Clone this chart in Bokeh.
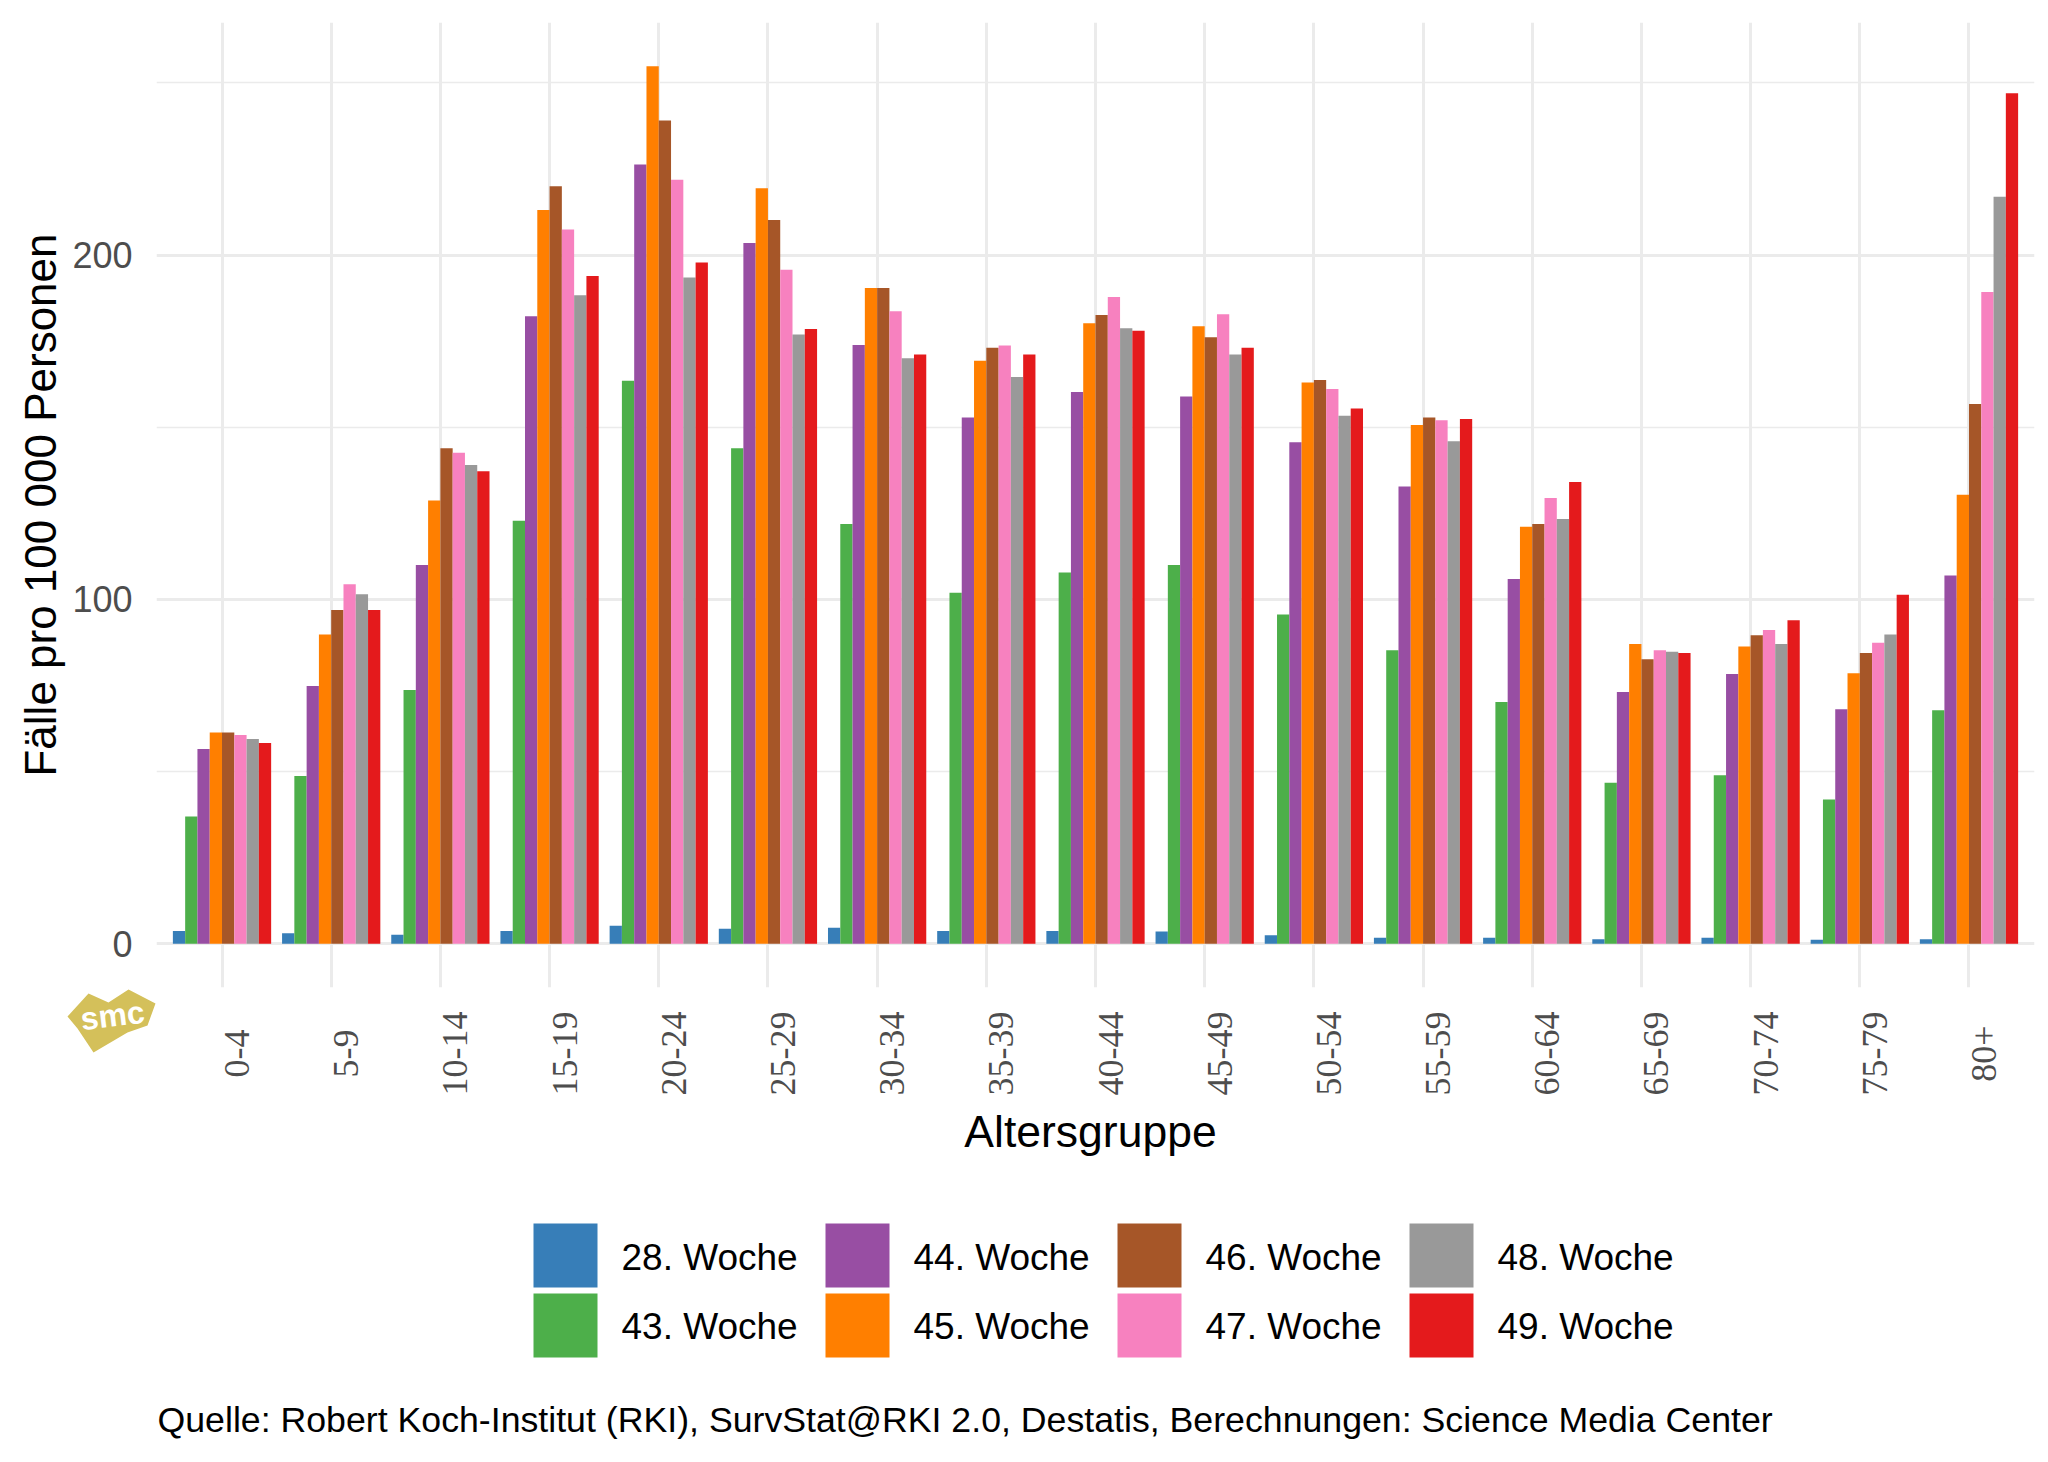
import math
import numpy as np
from bokeh.plotting import figure
from bokeh.layouts import column
from bokeh.models import (ColumnDataSource, Range1d, FixedTicker, Grid,
                          LabelSet, Label, PolyAnnotation)
from bokeh.transform import dodge
from bokeh.core.properties import value
from bokeh.embed import file_html
from bokeh.resources import INLINE

# ---------------- data ----------------
age_groups = ["0-4", "5-9", "10-14", "15-19", "20-24", "25-29", "30-34", "35-39",
              "40-44", "45-49", "50-54", "55-59", "60-64", "65-69", "70-74", "75-79", "80+"]
weeks = ["28. Woche", "43. Woche", "44. Woche", "45. Woche",
         "46. Woche", "47. Woche", "48. Woche", "49. Woche"]
colors = ["#377EB8", "#4DAF4A", "#984EA3", "#FF7F00",
          "#A65628", "#F781BF", "#999999", "#E41A1C"]

w28 = [3.7, 3.0, 2.6, 3.7, 5.2, 4.3, 4.6, 3.7, 3.7, 3.5, 2.4, 1.7, 1.7, 1.3, 1.7, 1.1, 1.3]
w43 = [36.9, 48.7, 73.7, 122.8, 163.5, 143.9, 121.9, 101.9, 107.8, 110.0, 95.6, 85.2, 70.2, 46.7, 48.9, 41.9, 67.8]
w44 = [56.5, 74.8, 110.0, 182.2, 226.3, 203.5, 173.9, 152.8, 160.2, 158.9, 145.6, 132.8, 105.9, 73.1, 78.3, 68.1, 106.9]
w45 = [61.3, 89.8, 128.7, 213.1, 254.8, 219.4, 190.4, 169.3, 180.2, 179.3, 163.0, 150.6, 121.1, 87.0, 86.3, 78.5, 130.4]
w46 = [61.3, 96.9, 143.9, 220.0, 239.1, 210.2, 190.4, 173.1, 182.6, 176.1, 163.7, 152.8, 121.9, 82.6, 89.6, 84.4, 156.7]
w47 = [60.6, 104.4, 142.6, 207.4, 221.9, 195.7, 183.7, 173.7, 187.8, 182.8, 161.1, 152.0, 129.4, 85.2, 91.1, 87.4, 189.3]
w48 = [59.4, 101.5, 139.0, 188.3, 193.5, 176.9, 170.0, 164.6, 178.7, 171.1, 153.3, 145.9, 123.3, 84.8, 87.0, 89.8, 216.9]
w49 = [58.3, 96.9, 137.2, 193.9, 197.8, 178.5, 171.1, 171.1, 178.0, 173.1, 155.4, 152.4, 134.1, 84.4, 93.9, 101.3, 247.0]

y_ticks = [0, 100, 200]
y_minor = [50, 150, 250]
x_title = "Altersgruppe"
y_title = "Fälle pro 100 000 Personen"
caption = "Quelle: Robert Koch-Institut (RKI), SurvStat@RKI 2.0, Destatis, Berechnungen: Science Media Center"

series = [w28, w43, w44, w45, w46, w47, w48, w49]

# ---------------- layout constants (pixels of the page) ----------------
FONT = "Liberation Sans"
W, H = 2048, 1462
FRAME_LEFT, FRAME_TOP, FRAME_W, FRAME_H = 156, 22, 1878, 965
MAIN_H = FRAME_TOP + FRAME_H + 1
BOT_H = H - MAIN_H
n = len(age_groups)
X0, X1 = 0.4, n + 0.6
ymax = max(max(s) for s in series)
Y0, Y1 = -0.05 * ymax, 1.05 * ymax
PXX = FRAME_W / (X1 - X0)


def cx(px):  # page x -> data x (shared horizontal mapping)
    return X0 + (px - FRAME_LEFT) / PXX


def by(py):  # page y -> y inside the lower panel (pixels from its top)
    return py - MAIN_H


data = {"x": list(range(1, n + 1)), "age": age_groups}
for wk, s in zip(weeks, series):
    data[wk] = s
src = ColumnDataSource(data)

# ---------------- main chart ----------------
p = figure(output_backend="svg", toolbar_location=None,
           frame_width=FRAME_W, frame_height=FRAME_H,
           min_border_left=FRAME_LEFT, min_border_top=FRAME_TOP,
           min_border_right=W - FRAME_LEFT - FRAME_W, min_border_bottom=1,
           x_range=Range1d(X0, X1), y_range=Range1d(Y0, Y1), x_axis_type=None)
p.frame_align = False
p.outline_line_color = None
p.background_fill_color = "white"
p.border_fill_color = "white"

p.add_layout(Grid(dimension=0, ticker=FixedTicker(ticks=list(range(1, n + 1))),
                  grid_line_color="#EBEBEB", grid_line_width=3))
p.yaxis.ticker = FixedTicker(ticks=y_ticks, minor_ticks=y_minor)
p.ygrid.grid_line_color = "#EBEBEB"
p.ygrid.grid_line_width = 3
p.ygrid.minor_grid_line_color = "#EBEBEB"
p.ygrid.minor_grid_line_width = 1.6

bw = 0.9 / len(weeks)
for k, (wk, col) in enumerate(zip(weeks, colors)):
    off = (k - (len(weeks) - 1) / 2) * bw
    p.vbar(x=dodge("x", off, range=p.x_range), top=wk, bottom=0, width=bw,
           source=src, fill_color=col, line_color=None)

ya = p.yaxis[0]
ya.axis_line_color = None
ya.major_tick_line_color = None
ya.minor_tick_line_color = None
ya.major_tick_out = 0
ya.major_label_standoff = 20
ya.major_label_text_font = FONT
ya.major_label_text_font_size = "36px"
ya.major_label_text_color = "#4D4D4D"
ya.axis_label = y_title
ya.axis_label_text_font = FONT
ya.axis_label_text_font_size = "44px"
ya.axis_label_text_font_style = "normal"
ya.axis_label_text_color = "black"
ya.axis_label_standoff = 4

# ---------------- lower panel: tick labels, x title, legend, caption ----------------
b = figure(output_backend="svg", toolbar_location=None,
           frame_width=W, frame_height=BOT_H,
           min_border_left=0, min_border_right=0, min_border_top=0, min_border_bottom=0,
           x_range=Range1d(cx(0), cx(W)), y_range=Range1d(BOT_H, 0),
           x_axis_type=None, y_axis_type=None)
b.frame_align = False
b.outline_line_color = None
b.background_fill_color = "white"
b.border_fill_color = "white"
b.grid.visible = False

# rotated category labels, placed with the same x scale as the bars
b.add_layout(LabelSet(x="x", y=by(1053), text="age", source=src, angle=math.pi / 2,
                      text_align="center", text_baseline="middle", x_offset=15,
                      text_font=FONT, text_font_size="36px", text_color="#4D4D4D"))

# x axis title
b.add_layout(Label(x=cx(1090), y=by(1130.5), text=x_title, text_align="center",
                   text_baseline="middle", text_font=FONT,
                   text_font_size="44.5px", text_color="black"))

# legend: 2 rows x 4 columns, filled column by column
KEY, COL_STEP, ROW_STEP = 64, 292, 70
key_left, key_top = 533, 1223
cols = [k // 2 for k in range(len(weeks))]
rows = [k % 2 for k in range(len(weeks))]
leg = ColumnDataSource(dict(
    kx=[cx(key_left + KEY / 2 + c * COL_STEP) for c in cols],
    ky=[by(key_top + KEY / 2 + r * ROW_STEP) for r in rows],
    tx=[cx(key_left + KEY + 24 + c * COL_STEP) for c in cols],
    ty=[by(1257 + r * 68.5) for r in rows],
    label=weeks, color=colors))
b.rect(x="kx", y="ky", width=KEY, height=KEY, width_units="screen", height_units="screen",
       fill_color="color", line_color=None, source=leg)
b.text(x="tx", y="ty", text="label", source=leg, text_align="left",
       text_baseline="middle", text_font=value(FONT), text_font_size="37px",
       text_color="black")

# caption
b.add_layout(Label(x=cx(157), y=by(1419.4), text=caption, text_align="left",
                   text_baseline="middle", text_font=FONT,
                   text_font_size="35.7px", text_color="black"))

# smc logo (approximation)
logo_px = [(67, 1016), (88, 993), (108, 1002), (128, 989), (155, 1003),
           (147, 1025), (127, 1032), (93, 1052), (77, 1028)]
b.add_layout(PolyAnnotation(xs=[cx(a) for a, _ in logo_px],
                            ys=[by(v) for _, v in logo_px],
                            fill_color="#D4C05A", fill_alpha=1.0, line_color=None))
b.add_layout(Label(x=cx(112), y=by(1015), text="smc", text_align="center",
                   text_baseline="middle", angle=0.12, text_font=FONT,
                   text_font_size="32px", text_font_style="bold", text_color="white"))

layout = column(p, b, spacing=0)
open("out.html", "w").write(file_html(layout, INLINE))
